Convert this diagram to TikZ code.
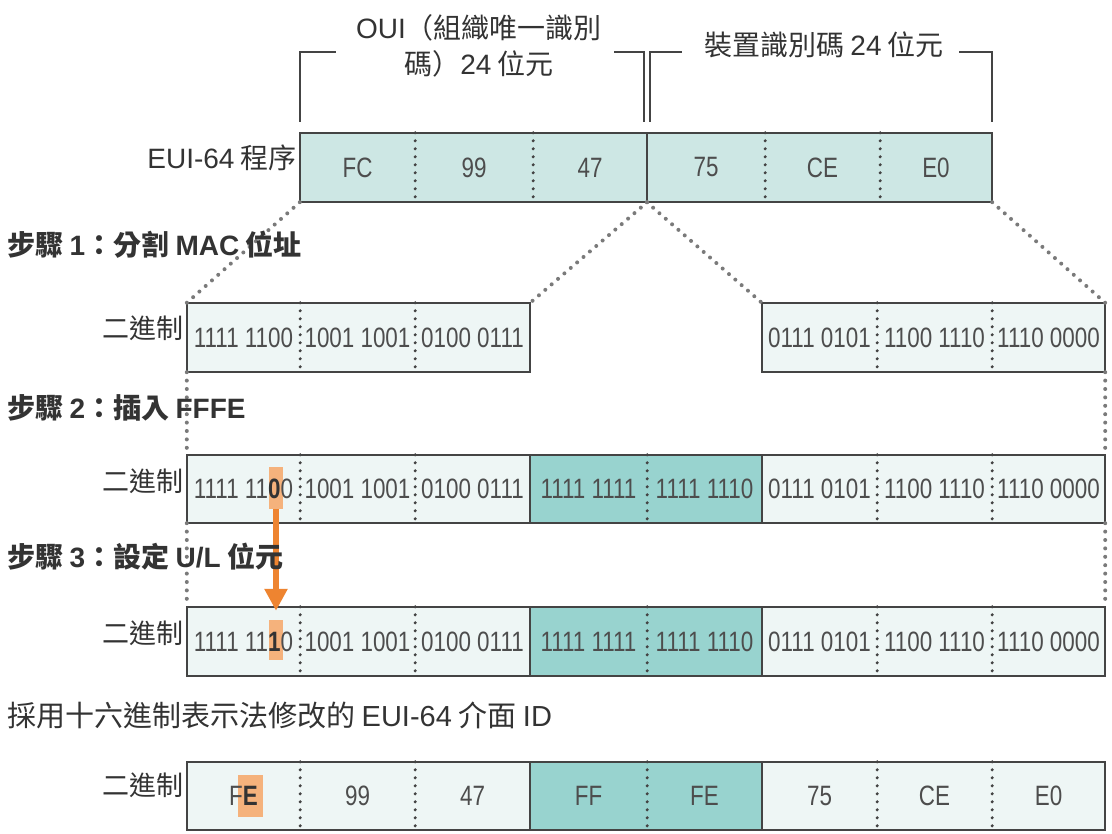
\documentclass[tikz,border=0pt]{standalone}
\usepackage{fontspec}
\setmainfont{Noto Sans CJK TC}
\newfontfamily\cellfont[FakeStretch=0.8]{Liberation Sans}
\newfontfamily\latf{Liberation Sans}
\usetikzlibrary{arrows.meta}
\definecolor{edge}{HTML}{444444}
\definecolor{topfill}{HTML}{CDE7E4}
\definecolor{lightfill}{HTML}{EEF6F5}
\definecolor{darkfill}{HTML}{98D3CF}
\definecolor{hlfill}{HTML}{F5B27C}
\definecolor{arrowc}{HTML}{EE8430}
\definecolor{celltext}{HTML}{4D4D4D}
\definecolor{labeltext}{HTML}{333333}
\definecolor{dotgrey}{HTML}{7A7A7A}
\tikzset{
  cellbox/.style={draw=none, inner sep=0, text=celltext, font=\cellfont\fontsize{28pt}{32pt}\selectfont},
  celltxt/.style={inner sep=0, text=celltext, font=\cellfont\fontsize{28pt}{32pt}\selectfont},
  hl/.style={fill=hlfill, draw=none, minimum height=42pt, minimum width=#1, inner sep=0pt},
  border/.style={draw=edge, line width=1.9pt},
  soliddiv/.style={draw=edge, line width=1.9pt},
  dotdiv/.style={draw=edge, line width=3.4pt, line cap=round, dash pattern=on 0pt off 8pt},
  dotline/.style={draw=dotgrey, line width=4pt, line cap=round, dash pattern=on 0pt off 8.4pt},
  bracket/.style={draw=edge, line width=2.8pt},
  lab/.style={inner sep=0, text=labeltext, font=\fontsize{27pt}{36pt}\selectfont},
  biglab/.style={inner sep=0, text=labeltext, font=\fontsize{28pt}{36pt}\selectfont},
  steplab/.style={inner sep=0, text=labeltext, font=\fontsize{28pt}{32pt}\selectfont\bfseries},
  orangearrow/.style={draw=arrowc, line width=5.5pt, shorten >=9pt, -{Triangle[width=22pt,length=22pt]}}
}
\newcommand\mkcell[7]{\node[cellbox, fill=#6, minimum width={(#3-#2)*1pt}, minimum height={(#5-#4)*1pt}] (#1) at ({(#2+#3)/2},{(#4+#5)/2}) {#7};}
\newcommand\hb[1]{{\bfseries\color{labeltext}#1}}
\begin{document}
\begin{tikzpicture}[x=1pt,y=-1pt]
\useasboundingbox (0,0) rectangle (1112,834);
\fill[white] (0,0) rectangle (1112,834);

% ---------- brackets ----------
\coordinate (b1a) at (300,122); \coordinate (b1b) at (300,52); \coordinate (b1c) at (336,52);
\coordinate (b1d) at (614,52); \coordinate (b1e) at (644,52); \coordinate (b1f) at (644,122);
\coordinate (b2a) at (650,122); \coordinate (b2b) at (650,52); \coordinate (b2c) at (682,52);
\coordinate (b2d) at (959,52); \coordinate (b2e) at (992,52); \coordinate (b2f) at (992,122);
\draw[bracket] (b1a) -- (b1b) -- (b1c);
\draw[bracket] (b1d) -- (b1e) -- (b1f);
\draw[bracket] (b2a) -- (b2b) -- (b2c);
\draw[bracket] (b2d) -- (b2e) -- (b2f);
\node[biglab, align=center] (oui) at (479,46) {{\latf OUI}（組織唯一識別\\碼）{\latf 24} 位元};
\node[biglab] (dev) at (824,45) {裝置識別碼 {\latf 24} 位元};

% ---------- row 0 : EUI-64 ----------
\mkcell{e1}{300}{415}{133}{202}{topfill}{FC}
\mkcell{e2}{415}{533}{133}{202}{topfill}{99}
\mkcell{e3}{533}{647}{133}{202}{topfill}{47}
\mkcell{e4}{647}{765}{133}{202}{topfill}{75}
\mkcell{e5}{765}{880}{133}{202}{topfill}{CE}
\mkcell{e6}{880}{992}{133}{202}{topfill}{E0}
\draw[dotdiv] (e1.north east) -- (e1.south east);
\draw[dotdiv] (e2.north east) -- (e2.south east);
\draw[soliddiv] (e3.north east) -- (e3.south east);
\draw[dotdiv] (e4.north east) -- (e4.south east);
\draw[dotdiv] (e5.north east) -- (e5.south east);
\draw[border] (e1.north west) rectangle (e6.south east);
\node[biglab, anchor=east] (l0) at (297,158) {{\latf EUI-64} 程序};

% ---------- row 1 ----------
\mkcell{a1}{187}{300}{303}{372}{lightfill}{1111 1100}
\mkcell{a2}{300}{415}{303}{372}{lightfill}{1001 1001}
\mkcell{a3}{415}{530}{303}{372}{lightfill}{0100 0111}
\mkcell{a4}{762}{877}{303}{372}{lightfill}{0111 0101}
\mkcell{a5}{877}{992}{303}{372}{lightfill}{1100 1110}
\mkcell{a6}{992}{1105}{303}{372}{lightfill}{1110 0000}
\draw[dotdiv] (a1.north east) -- (a1.south east);
\draw[dotdiv] (a2.north east) -- (a2.south east);
\draw[dotdiv] (a4.north east) -- (a4.south east);
\draw[dotdiv] (a5.north east) -- (a5.south east);
\draw[border] (a1.north west) rectangle (a3.south east);
\draw[border] (a4.north west) rectangle (a6.south east);
\node[lab, anchor=east] (l1) at (184,328) {二進制};

% ---------- row 2 ----------
\mkcell{b1}{187}{300}{455}{523}{lightfill}{}
\mkcell{b2}{300}{415}{455}{523}{lightfill}{1001 1001}
\mkcell{b3}{415}{530}{455}{523}{lightfill}{0100 0111}
\mkcell{b4}{530}{647}{455}{523}{darkfill}{1111 1111}
\mkcell{b5}{647}{762}{455}{523}{darkfill}{1111 1110}
\mkcell{b6}{762}{877}{455}{523}{lightfill}{0111 0101}
\mkcell{b7}{877}{992}{455}{523}{lightfill}{1100 1110}
\mkcell{b8}{992}{1105}{455}{523}{lightfill}{1110 0000}
\node[hl=14pt] (h2) at ([xshift=32.5pt, yshift=1pt]b1.center) {};
\node[celltxt] (b1t) at (b1.center) {1111 11\hb{0}0};
\draw[dotdiv] (b1.north east) -- (b1.south east);
\draw[dotdiv] (b2.north east) -- (b2.south east);
\draw[soliddiv] (b3.north east) -- (b3.south east);
\draw[dotdiv] (b4.north east) -- (b4.south east);
\draw[soliddiv] (b5.north east) -- (b5.south east);
\draw[dotdiv] (b6.north east) -- (b6.south east);
\draw[dotdiv] (b7.north east) -- (b7.south east);
\draw[border] (b1.north west) rectangle (b8.south east);
\node[lab, anchor=east] (l2) at (184,481) {二進制};

% ---------- row 3 ----------
\mkcell{c1}{187}{300}{607}{676}{lightfill}{}
\mkcell{c2}{300}{415}{607}{676}{lightfill}{1001 1001}
\mkcell{c3}{415}{530}{607}{676}{lightfill}{0100 0111}
\mkcell{c4}{530}{647}{607}{676}{darkfill}{1111 1111}
\mkcell{c5}{647}{762}{607}{676}{darkfill}{1111 1110}
\mkcell{c6}{762}{877}{607}{676}{lightfill}{0111 0101}
\mkcell{c7}{877}{992}{607}{676}{lightfill}{1100 1110}
\mkcell{c8}{992}{1105}{607}{676}{lightfill}{1110 0000}
\node[hl=14pt, minimum height=40pt] (h3) at ([xshift=32.5pt, yshift=1.5pt]c1.center) {};
\node[celltxt] (c1t) at (c1.center) {1111 11\hb{1}0};
\draw[dotdiv] (c1.north east) -- (c1.south east);
\draw[dotdiv] (c2.north east) -- (c2.south east);
\draw[soliddiv] (c3.north east) -- (c3.south east);
\draw[dotdiv] (c4.north east) -- (c4.south east);
\draw[soliddiv] (c5.north east) -- (c5.south east);
\draw[dotdiv] (c6.north east) -- (c6.south east);
\draw[dotdiv] (c7.north east) -- (c7.south east);
\draw[border] (c1.north west) rectangle (c8.south east);
\node[lab, anchor=east] (l3) at (184,633) {二進制};

% ---------- row 4 ----------
\mkcell{d1}{187}{300}{762}{830}{lightfill}{}
\mkcell{d2}{300}{415}{762}{830}{lightfill}{99}
\mkcell{d3}{415}{530}{762}{830}{lightfill}{47}
\mkcell{d4}{530}{647}{762}{830}{darkfill}{FF}
\mkcell{d5}{647}{762}{762}{830}{darkfill}{FE}
\mkcell{d6}{762}{877}{762}{830}{lightfill}{75}
\mkcell{d7}{877}{992}{762}{830}{lightfill}{CE}
\mkcell{d8}{992}{1105}{762}{830}{lightfill}{E0}
\node[hl=25pt] (h4) at ([xshift=7pt]d1.center) {};
\node[celltxt] (d1t) at (d1.center) {F\hb{E}};
\draw[dotdiv] (d1.north east) -- (d1.south east);
\draw[dotdiv] (d2.north east) -- (d2.south east);
\draw[soliddiv] (d3.north east) -- (d3.south east);
\draw[dotdiv] (d4.north east) -- (d4.south east);
\draw[soliddiv] (d5.north east) -- (d5.south east);
\draw[dotdiv] (d6.north east) -- (d6.south east);
\draw[dotdiv] (d7.north east) -- (d7.south east);
\draw[border] (d1.north west) rectangle (d8.south east);
\node[lab, anchor=east] (l4) at (184,785) {二進制};

% ---------- dotted guide lines ----------
\draw[dotline] (e1.south west) -- (a1.north west);
\draw[dotline] (e3.south east) -- (a3.north east);
\draw[dotline] (e4.south west) -- (a4.north west);
\draw[dotline] (e6.south east) -- (a6.north east);
\draw[dotline] (a1.south west) -- (b1.north west);
\draw[dotline] (a6.south east) -- (b8.north east);
\draw[dotline] (b1.south west) -- (c1.north west);
\draw[dotline] (b8.south east) -- (c8.north east);

% ---------- arrow ----------
\draw[orangearrow] (h2.south) -- (h3.north);

% ---------- step labels ----------
\node[steplab, anchor=west] (s1) at (7,245) {步驟 {\latf 1}：分割 {\latf MAC} 位址};
\node[steplab, anchor=west] (s2) at (7,408) {步驟 {\latf 2}：插入 {\latf FFFE}};
\node[steplab, anchor=west] (s3) at (7,557) {步驟 {\latf 3}：設定 {\latf U/L} 位元};
\node[biglab, anchor=west, font=\fontsize{29pt}{36pt}\selectfont] (s4) at (7,715) {採用十六進制表示法修改的 {\latf EUI-64} 介面 {\latf ID}};
\end{tikzpicture}
\end{document}
